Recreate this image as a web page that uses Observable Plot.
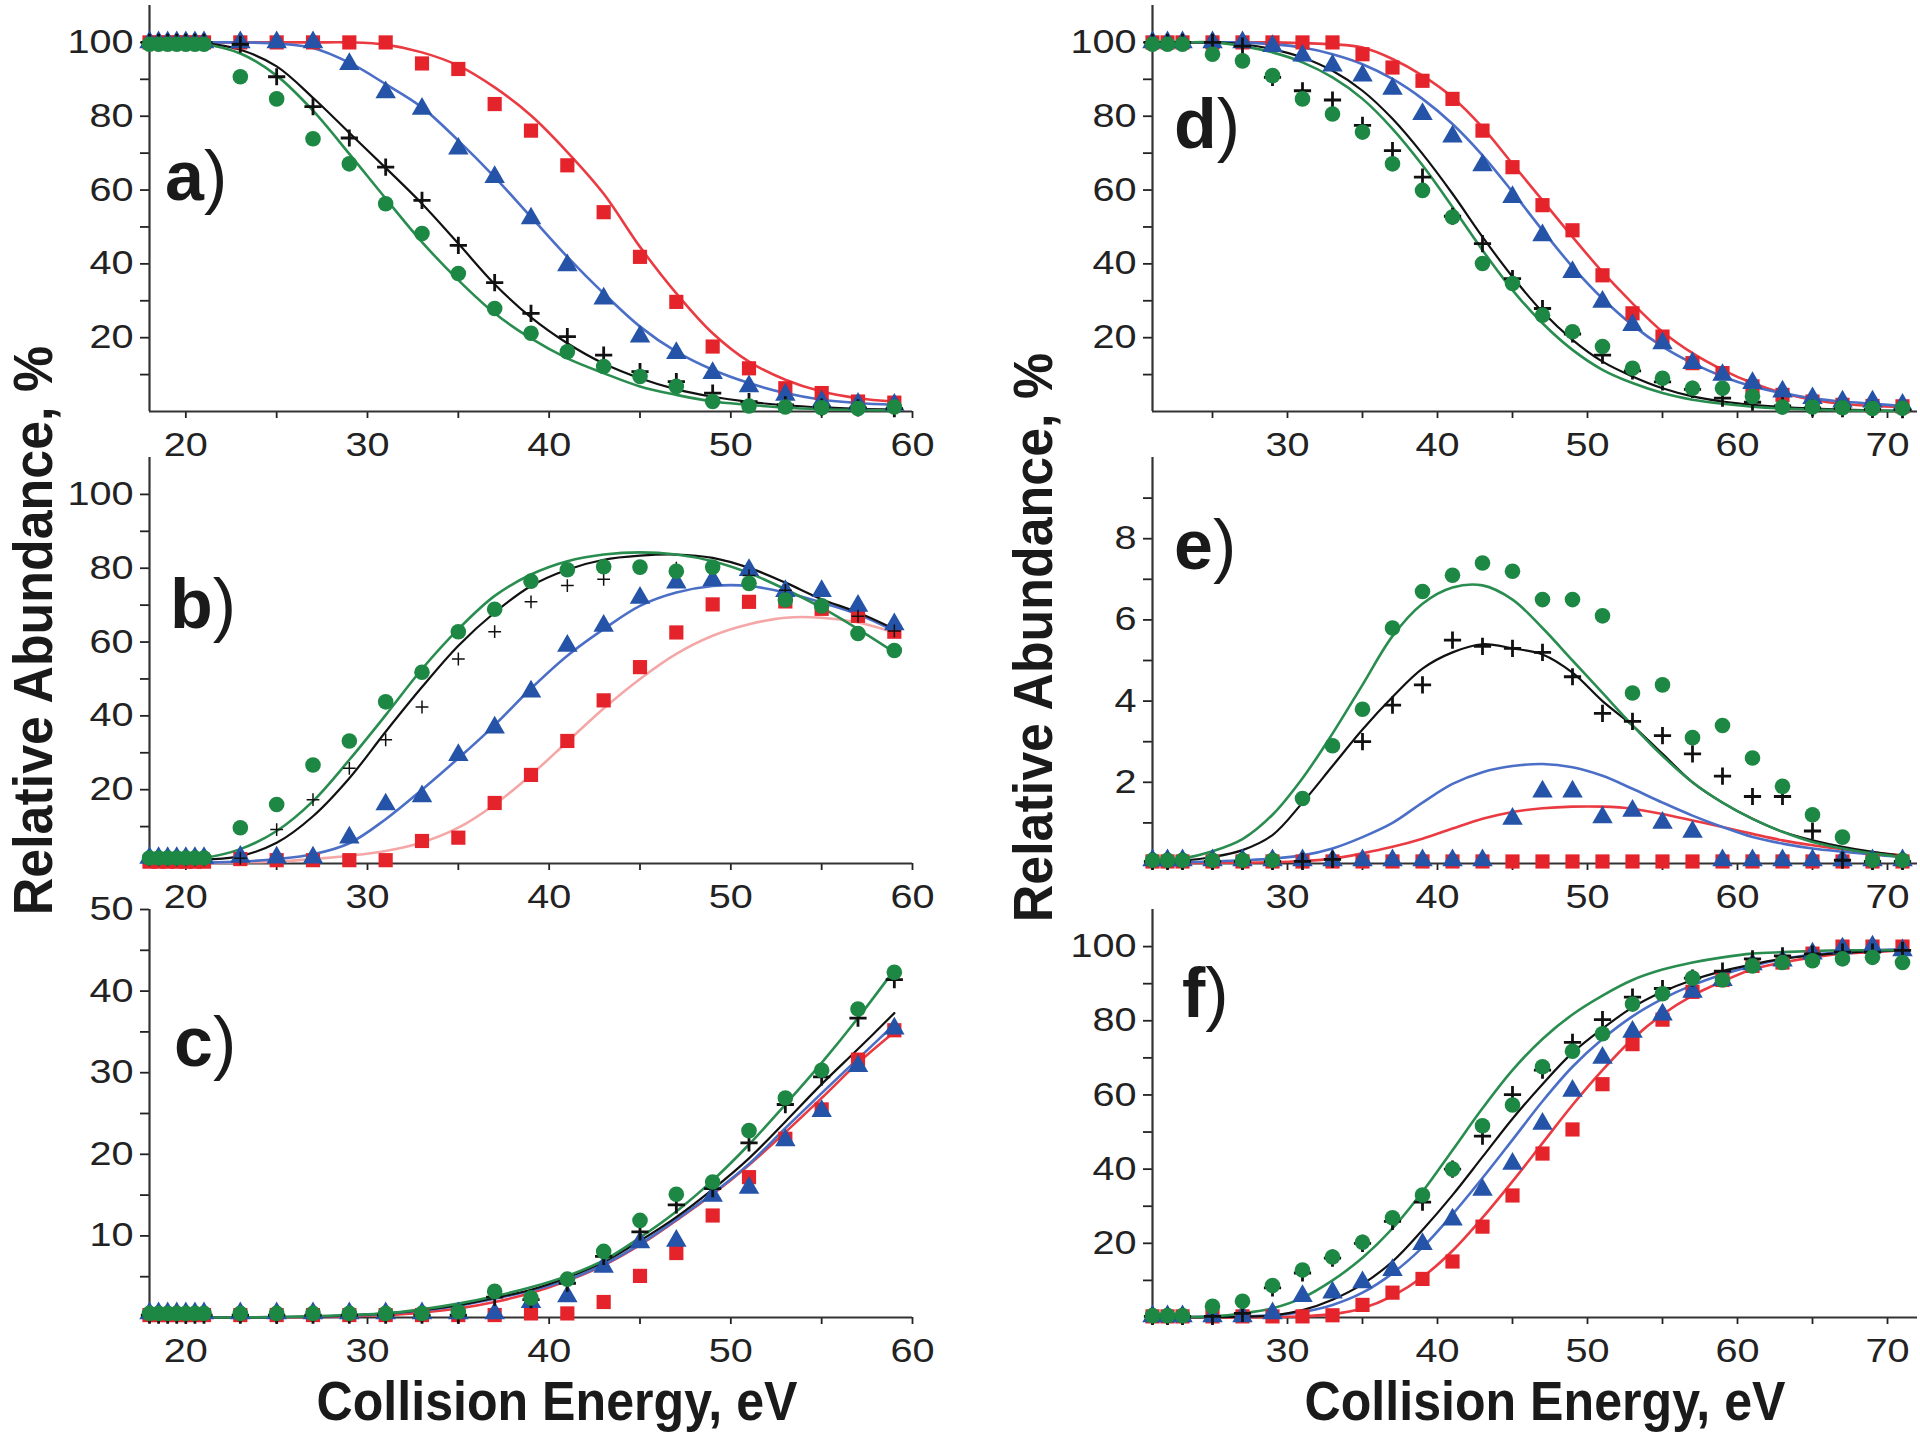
<!DOCTYPE html>
<html>
<head>
<meta charset="utf-8">
<script src="https://cdn.jsdelivr.net/npm/d3@7"></script>
<script src="https://cdn.jsdelivr.net/npm/@observablehq/plot@0.6"></script>
<style>
  html, body { margin: 0; padding: 0; background: #fff; }
  #root { position: relative; width: 1920px; height: 1442px; overflow: hidden; background: #fff; }
  .ytitle { position: absolute; width: 700px; text-align: center; white-space: nowrap;
            font: bold 56px "Liberation Sans", Arial, sans-serif; line-height: 1; color: #1a1a1a;
            transform-origin: 0 0; transform: rotate(-90deg) scaleX(0.927); }
  .xtitle { position: absolute; width: 800px; text-align: center; white-space: nowrap;
            font: bold 56px "Liberation Sans", Arial, sans-serif; line-height: 1; color: #1a1a1a;
            transform: scaleX(0.895); transform-origin: 50% 50%; }
  .plab { position: absolute; font: 70px "Liberation Sans", Arial, sans-serif; line-height: 1; color: #1a1a1a; white-space: nowrap; }
  .plab b { font-weight: bold; }
</style>
</head>
<body>
<div id="root">
  <div class="ytitle" style="left:5px; top:955px;">Relative Abundance, %</div>
  <div class="ytitle" style="left:1005px; top:962px;">Relative Abundance, %</div>
  <div class="xtitle" style="left:157px; top:1373px;">Collision Energy, eV</div>
  <div class="xtitle" style="left:1145px; top:1373px;">Collision Energy, eV</div>
  <div class="plab" style="left:165px; top:141px;"><b>a</b>)</div>
  <div class="plab" style="left:170px; top:569px;"><b>b</b>)</div>
  <div class="plab" style="left:174px; top:1007px;"><b>c</b>)</div>
  <div class="plab" style="left:1174px; top:89px;"><b>d</b>)</div>
  <div class="plab" style="left:1174px; top:510px;"><b>e</b>)</div>
  <div class="plab" style="left:1182px; top:958px;"><b>f</b>)</div>
</div>
<script>
// ---------- x positions ----------
const X_LEFT_MARK = [18,18.5,19,19.5,20,20.5,21,23,25,27,29,31,33,35,37,39,41,43,45,47,49,51,53,55,57,59];
const X_LEFT_FIT  = [18,21,23,25,27,29,31,33,35,37,39,41,43,45,47,49,51,53,55,57,59];
const X_RIGHT_MARK = [21,22,23,25,27,29,31,33,35,37,39,41,43,45,47,49,51,53,55,57,59,61,63,65,67,69,71];
const X_RIGHT_FIT  = [21,23,25,27,29,31,33,35,37,39,41,43,45,47,49,51,53,55,57,59,61,63,65,67,69,71];

// ---------- tick labels ----------
const X_TICKS_LEFT = [20,25,30,35,40,45,50,55,60];
const X_LABELS_LEFT = [20,30,40,50,60];
const X_TICKS_RIGHT = [25,30,35,40,45,50,55,60,65,70];
const X_LABELS_RIGHT = [30,40,50,60,70];
const Y_TICKS_PCT = [10,20,30,40,50,60,70,80,90,100];
const Y_LABELS_PCT = [20,40,60,80,100];
const Y_TICKS_C = [5,10,15,20,25,30,35,40,45,50];
const Y_LABELS_C = [10,20,30,40,50];
const Y_TICKS_E = [1,2,3,4,5,6,7,8,9];
const Y_LABELS_E = [2,4,6,8];

// ---------- panel a ----------
const aRed   = [100,100,100,100,100,100,100,100,100,100,100,100,94.3,92.8,83.3,76.1,66.7,54,41.9,29.7,17.6,11.7,6.3,5,2.7,2.4];
const aBlue  = [100,100,100,100,100,100,100,100,100,100,94.1,86.5,82,71.2,63.5,52.3,39.6,30.6,20.3,15.8,10.4,6.8,4.5,2.7,2.1,1.8];
const aBlack = [100,100,100,100,100,100,100,99.5,90.7,82.6,74.1,66.2,57.2,45,34.9,26.6,20.3,15.3,10.8,8.1,5,2.7,1.8,1.2,1,0.8];
const aGreen = [99.5,99.5,99.5,99.5,99.5,99.5,99.5,90.7,84.7,73.9,67.1,56.3,48.2,37.4,27.9,21.2,16.2,12.2,9.5,6.8,2.7,1.5,1.2,1,0.8,1.2];
const aRedFit   = [100,100,100,100,100,100,99.4,97.3,93.7,87.8,80.2,70.3,59,44.6,32,21.2,13.5,8.6,5.4,3.6,2.7];
const aBlueFit  = [100,100,100,99.7,98.5,94.5,88.7,82.4,73.4,63.5,52.7,41.9,32,23,16.2,11.3,7.7,5,3.2,2.3,1.8];
const aBlackFit = [100,99.8,98,93.5,85,75.5,66,56.3,45.5,34.5,25.5,18.5,13,9,6,4,2.6,1.7,1.1,0.7,0.5];
const aGreenFit = [100,99.5,97,91,81.5,69.8,57.7,45.9,35.6,26.6,19.8,14.4,10.4,6.8,4.5,2.7,1.8,1,0.6,0.4,0.3];

// ---------- panel b ----------
const bRed   = [0.5,0.5,0.5,0.5,0.5,0.5,0.5,1.2,0.9,0.9,0.9,0.9,6.1,7,16.4,24,33.2,44.2,53.2,62.6,70.2,70.9,71,69,67.1,62.8];
const bBlue  = [1.5,1.5,1.5,1.5,1.5,1.5,1.5,1.8,1.6,1.6,7,16,18.2,29.4,36.8,46.6,59,64.4,72,76.1,76.8,79.5,73.8,73.8,69.8,64.8];
const bBlack = [1,1,1,1,1,1,1,1.4,9.2,17.3,25.8,33.5,42.4,55.4,62.8,70.9,75.3,77,80,80,80.5,78,74,70,67,63];
const bGreen = [1.5,1.5,1.5,1.5,1.5,1.5,1.5,9.7,16,26.7,33.2,43.8,51.8,62.8,68.9,76.5,79.6,80.4,80.3,79.2,80.3,75.9,71.4,69.8,62.3,57.7];
const bRedFit   = [0,0.1,0.3,0.5,1.2,2.1,3.4,5.7,9.7,16,24,33,42,50,56.8,61.7,64.8,66.6,66.6,65.3,62.6];
const bBlueFit  = [0,0.2,0.5,1.2,2.5,5.5,12,20,28.5,37.5,47.4,56.3,63.5,69.8,73.4,75.2,75.2,73.4,70.7,67.5,63];
const bBlackFit = [0.2,1,2,5.6,12.8,23.1,35.7,47.8,59,68,75.2,79.6,82.3,83.4,83.7,82.8,80.1,76.1,71.6,68,63.5];
const bGreenFit = [0.3,1.5,3.9,8.8,16.9,28.1,40.2,52.7,63.5,72.5,78.3,81.9,83.7,84.3,83.7,81.9,78.7,74.3,69.3,63.5,57.2];

// ---------- panel c ----------
const cRed   = [0.3,0.3,0.3,0.3,0.3,0.3,0.3,0.3,0.3,0.3,0.3,0.3,0.3,0.3,0.3,0.5,0.5,1.9,5.1,7.9,12.5,17.2,21.9,25.5,31.6,35.2];
const cBlue  = [0.5,0.5,0.5,0.5,0.5,0.5,0.5,0.5,0.5,0.5,0.5,0.5,0.5,0.5,0.5,1.9,2.6,6.2,9.2,9.4,14.9,15.9,21.7,25.3,30.8,35.4];
const cBlack = [0.3,0.3,0.3,0.3,0.3,0.3,0.3,0.3,0.3,0.3,0.3,0.3,0.3,0.3,2.5,2.2,4.2,7.5,10.5,13.8,15.8,21.4,26.1,29.5,36.7,41.4];
const cGreen = [0.5,0.5,0.5,0.5,0.5,0.5,0.5,0.5,0.5,0.5,0.5,0.5,0.5,0.7,3.2,2.4,4.7,8.1,11.9,15.1,16.6,22.9,26.9,30.3,37.8,42.3];
const cRedFit   = [0,0,0,0,0.05,0.15,0.3,0.6,1.1,1.9,3,4.5,6.4,8.9,11.9,15.1,18.7,22.7,26.9,31.2,35];
const cBlueFit  = [0,0,0,0.05,0.1,0.25,0.45,0.85,1.45,2.3,3.3,4.6,6.5,9,12,15.2,18.8,23.2,27.5,31.7,35.9];
const cBlackFit = [0,0,0,0.05,0.1,0.25,0.5,0.9,1.5,2.4,3.4,4.9,6.8,9.4,12.3,15.7,19.5,24,28.6,32.9,37.3];
const cGreenFit = [0,0,0,0.05,0.15,0.3,0.5,1,1.7,2.6,3.7,5.1,7,9.8,13,16.8,21.2,26.1,31.2,36.7,42.6];

// ---------- panel d ----------
const dRed   = [100,100,100,100,100,100,100,100,96.8,93.2,89.6,84.7,76.1,66.2,55.9,49.1,36.9,26.6,20.3,13.1,10.4,6.8,4.5,2.7,1.8,1.5,1.4];
const dBlue  = [100,100,100,100,100,99,96.4,93.7,91,87.4,80.6,74.5,66.7,58.1,47.7,37.8,29.7,23.4,18.5,13.1,9.9,7.7,5.4,3.6,2.7,2.7,1.8];
const dBlack = [100,100,100,100,99,90.5,86.9,84.4,77.5,70.7,63.5,52.9,45.5,36,27.9,21,15.3,11,8,6,3.6,2.5,1.5,1,0.8,0.6,0.5];
const dGreen = [99.5,99.5,99.5,96.8,95,91,84.7,80.6,75.7,67.1,59.9,52.7,40.1,34.7,26.1,21.6,17.6,11.7,9,6.3,6.3,4.1,1.2,1.2,1,0.8,0.9];
const dRedFit   = [100,100,100,100,100,99.8,99.5,98.6,95.5,91,85.1,77,67.1,57.2,47.3,37.8,29.3,21.6,15.8,11.3,7.7,5,3.2,2.1,1.5,1.2];
const dBlueFit  = [100,100,100,100,99.5,98.6,96.8,94.1,90.1,84.7,77.9,69.4,59.5,49.1,39.2,30.6,23.4,17.6,13.1,9.5,6.8,5,3.6,2.7,2.1,1.5];
const dBlackFit = [100,100,100,99.5,98.2,95.9,92.3,86.9,79.3,69.8,59,47.3,36.5,27,19.4,13.5,9.5,6.3,4.1,2.7,1.8,1.2,0.8,0.5,0.3,0.2];
const dGreenFit = [100,100,100,99,97.3,94.6,90.5,84.7,76.6,66.7,55.4,43.7,32.9,23.9,16.7,11.3,7.7,5,3.2,2.1,1.3,0.8,0.5,0.3,0.2,0.1];

// ---------- panel e ----------
const eRed   = [0.05,0.05,0.05,0.05,0.05,0.05,0.05,0.05,0.05,0.05,0.05,0.05,0.05,0.05,0.05,0.05,0.05,0.05,0.05,0.05,0.05,0.05,0.05,0.05,0.05,0.05,0.05];
const eBlue  = [0.08,0.08,0.08,0.08,0.08,0.08,0.08,0.08,0.08,0.08,0.08,0.08,0.08,1.1,1.77,1.77,1.14,1.3,1.0,0.78,0.08,0.08,0.08,0.08,0.08,0.08,0.08];
const eBlack = [0.05,0.05,0.05,0.05,0.05,0.05,0.05,0.1,3,3.9,4.4,5.5,5.35,5.3,5.2,4.6,3.7,3.5,3.15,2.7,2.15,1.65,1.65,0.8,0.08,0.05,0.05];
const eGreen = [0.08,0.08,0.08,0.08,0.08,0.08,1.6,2.9,3.8,5.8,6.7,7.1,7.4,7.2,6.5,6.5,6.1,4.2,4.4,3.1,3.4,2.6,1.9,1.2,0.65,0.08,0.08];
const eRedFit   = [0.01,0.01,0.02,0.02,0.03,0.06,0.12,0.25,0.41,0.61,0.86,1.1,1.27,1.36,1.4,1.4,1.35,1.22,1.06,0.9,0.73,0.57,0.45,0.35,0.27,0.2];
const eBlueFit  = [0.02,0.03,0.05,0.08,0.12,0.2,0.37,0.65,1,1.5,1.96,2.25,2.4,2.45,2.37,2.16,1.84,1.5,1.18,0.9,0.65,0.49,0.37,0.29,0.22,0.16];
const eBlackFit = [0.03,0.07,0.16,0.33,0.7,1.5,2.4,3.3,4.1,4.8,5.2,5.4,5.3,5.15,4.7,4,3.4,2.7,2,1.5,1.1,0.78,0.57,0.41,0.29,0.19];
const eGreenFit = [0.05,0.12,0.3,0.6,1.2,2.1,3.2,4.4,5.6,6.4,6.8,6.85,6.5,5.8,5,4.2,3.4,2.65,2,1.5,1.1,0.78,0.53,0.37,0.25,0.16];

// ---------- panel f ----------
const fRed   = [0.3,0.3,0.3,0.3,0.3,0.3,0.3,0.6,3.4,6.7,10.4,15.1,24.5,32.9,44.2,50.7,62.9,73.7,80.3,87.8,91,94.8,95.7,98.1,100,100,100];
const fBlue  = [0.3,0.3,0.3,0.3,0.3,1.1,5.8,6.7,9.5,12.8,19.8,26.4,34.4,41.4,52.2,61.1,70,77,81.7,87.8,91,95.2,96.2,98.1,99.5,100,99];
const fBlack = [0.3,0.3,0.3,0.3,1.1,8,12,16,20,25.9,31.1,40,48.9,60.1,66.7,74.2,80.3,86.4,88.7,91.5,93.4,96.7,97.5,98,98.5,98.5,99];
const fGreen = [0.5,0.5,0.5,3,4.4,8.6,12.8,16.3,20.3,26.9,33,40,51.7,57.3,67.6,71.8,76.5,84.5,87.3,91.5,91,94.8,95.7,96.2,96.7,97.1,95.7];
const fRedFit   = [0,0,0,0,0.1,0.3,0.9,2.5,5.8,10.9,18,26.9,36.7,47,57.3,66.7,75.1,81.7,86.8,90.6,93.9,95.7,97.1,98.1,98.5,99];
const fBlueFit  = [0.1,0.1,0.2,0.3,0.6,1.5,3.4,6.7,11.9,18.9,27.8,37.6,47.9,58.3,67.6,75.1,81.2,85.9,89.6,92.5,94.8,96.7,97.8,98.5,99,99.3];
const fBlackFit = [0,0,0.1,0.2,0.6,2,4.8,9,15.1,23.6,33,43.3,53.6,62.9,71.4,77.9,83.6,87.8,91,93.4,95.2,96.7,97.6,98.3,98.7,99];
const fGreenFit = [0,0.1,0.3,1.1,2.5,5.3,10,16.1,24,33.9,45.1,56.4,66.7,75.1,81.7,86.8,91,93.8,95.7,97.1,98.1,98.5,98.8,99,99,99];

// ---------- styling ----------
const RED = "#e4232b", RED_LINE = "#ea3b42", RED_LINE_PALE = "#f5a7a7";
const BLUE = "#2453a8", BLUE_LINE = "#4b6ec6";
const GREEN = "#1d8744", GREEN_LINE = "#2a8d50";
const BLACK = "#111111";
const AXIS = "#333333";

const COLS = {
  L: {x0: 149, x1: 912, domain: [18, 60], ticks: X_TICKS_LEFT, labels: X_LABELS_LEFT, fitX: X_LEFT_FIT, markX: X_LEFT_MARK, mr: 34},
  R: {x0: 1152, x1: 1917, domain: [21, 72], ticks: X_TICKS_RIGHT, labels: X_LABELS_RIGHT, fitX: X_RIGHT_FIT, markX: X_RIGHT_MARK, mr: 3}
};
const ROWS = [[5, 411], [457, 863], [909, 1317]];
const YCFG = {
  pct: {domain: [0, 110], ticks: Y_TICKS_PCT, labels: Y_LABELS_PCT},
  c: {domain: [0, 50], ticks: Y_TICKS_C, labels: Y_LABELS_C},
  e: {domain: [0, 10], ticks: Y_TICKS_E, labels: Y_LABELS_E}
};

const PANELS = [
  {col: "L", row: 0, y: "pct", red: [aRed, aRedFit], blue: [aBlue, aBlueFit], black: [aBlack, aBlackFit], green: [aGreen, aGreenFit]},
  {col: "L", row: 1, y: "pct", red: [bRed, bRedFit], blue: [bBlue, bBlueFit], black: [bBlack, bBlackFit], green: [bGreen, bGreenFit], paleRed: true, thinPlus: true},
  {col: "L", row: 2, y: "c", red: [cRed, cRedFit], blue: [cBlue, cBlueFit], black: [cBlack, cBlackFit], green: [cGreen, cGreenFit]},
  {col: "R", row: 0, y: "pct", red: [dRed, dRedFit], blue: [dBlue, dBlueFit], black: [dBlack, dBlackFit], green: [dGreen, dGreenFit]},
  {col: "R", row: 1, y: "e", red: [eRed, eRedFit], blue: [eBlue, eBlueFit], black: [eBlack, eBlackFit], green: [eGreen, eGreenFit]},
  {col: "R", row: 2, y: "pct", red: [fRed, fRedFit], blue: [fBlue, fBlueFit], black: [fBlack, fBlackFit], green: [fGreen, fGreenFit]}
];

const pts = (xs, ys) => xs.map((x, i) => ({x, y: ys[i]}));

const root = document.getElementById("root");
for (const p of PANELS) {
  const C = COLS[p.col];
  const [y0, y1] = ROWS[p.row];
  const Y = YCFG[p.y];
  const ML = 110, MT = 8, MB = 52, MR = C.mr;
  const width = ML + (C.x1 - C.x0) + MR;
  const height = MT + (y1 - y0) + MB;
  const lineOpts = {x: "x", y: "y", strokeWidth: 2.6, curve: "catmull-rom"};
  const marks = [
    Plot.axisX({ticks: C.ticks, tickFormat: d => C.labels.includes(d) ? String(d) : "", tickSize: 7, tickPadding: 14, strokeWidth: 1.8, label: null}),
    Plot.axisY({ticks: Y.ticks, tickFormat: d => Y.labels.includes(d) ? String(d) : "", tickSize: 9, tickPadding: 7, strokeWidth: 1.8, label: null}),
    Plot.ruleX([C.domain[0]], {stroke: AXIS, strokeWidth: 2.2}),
    Plot.ruleY([0], {stroke: AXIS, strokeWidth: 2.2}),
    Plot.line(pts(C.fitX, p.red[1]), {...lineOpts, stroke: p.paleRed ? RED_LINE_PALE : RED_LINE}),
    Plot.line(pts(C.fitX, p.blue[1]), {...lineOpts, stroke: BLUE_LINE}),
    Plot.line(pts(C.fitX, p.black[1]), {...lineOpts, stroke: BLACK, strokeWidth: 2.2}),
    Plot.line(pts(C.fitX, p.green[1]), {...lineOpts, stroke: GREEN_LINE}),
    Plot.dot(pts(C.markX, p.red[0]), {x: "x", y: "y", symbol: "square", r: 8, fill: RED, stroke: "none"}),
    Plot.dot(pts(C.markX, p.blue[0]), {x: "x", y: "y", symbol: "triangle", r: 7.6, fill: BLUE, stroke: "none"}),
    Plot.dot(pts(C.markX, p.black[0]), {x: "x", y: "y", symbol: "plus", r: p.thinPlus ? 4.2 : 5.6, fill: "none", stroke: BLACK, strokeWidth: p.thinPlus ? 1.5 : 2.8}),
    Plot.dot(pts(C.markX, p.green[0]), {x: "x", y: "y", symbol: "circle", r: 7.8, fill: GREEN, stroke: "none"})
  ];
  const svg = Plot.plot({
    width, height,
    marginLeft: ML, marginRight: MR, marginTop: MT, marginBottom: MB,
    x: {domain: C.domain, label: null},
    y: {domain: Y.domain, label: null},
    style: {fontFamily: '"Liberation Sans", Arial, sans-serif', fontSize: "33px", color: "#222",
            background: "transparent", overflow: "visible", maxWidth: "none"},
    marks
  });
  // widen tick label glyphs horizontally, as in the reference
  svg.querySelectorAll('[aria-label$="tick label"] text').forEach(t => {
    const tr = t.getAttribute("transform");
    if (tr) t.setAttribute("transform", tr + " scale(1.2,1)");
    else {
      const x = t.getAttribute("x") || 0, y = t.getAttribute("y") || 0;
      t.removeAttribute("x"); t.removeAttribute("y");
      t.setAttribute("transform", `translate(${x},${y}) scale(1.2,1)`);
    }
  });
  svg.style.position = "absolute";
  svg.style.left = (C.x0 - ML) + "px";
  svg.style.top = (y0 - MT) + "px";
  root.appendChild(svg);
}
</script>
</body>
</html>
